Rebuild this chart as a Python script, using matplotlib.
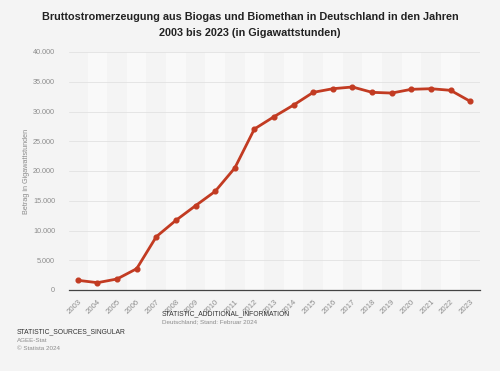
#!/usr/bin/env python3

"""
Bruttostromerzeugung aus Biogas und Biomethan in Deutschland 2003-2023.
"""

import matplotlib
matplotlib.use("Agg")
import matplotlib.pyplot as plt
from matplotlib.ticker import FuncFormatter

years = list(range(2003, 2024))
values = [1630, 1230, 1850, 3580, 8960, 11710, 14170, 16580, 20500, 27060,
          29130, 31090, 33220, 33830, 34120, 33220, 33100, 33730, 33830, 33560, 31710]
y_ticks = [0, 5000, 10000, 15000, 20000, 25000, 30000, 35000, 40000]

BG = "#f4f4f4"
LINE = "#c23b22"
GREY = "#8c8c8c"

plt.rcParams["font.family"] = ["Liberation Sans", "DejaVu Sans"]


def de_thousands(v, pos):
    return f"{int(v):,}".replace(",", ".")


def main():
    fig = plt.figure(figsize=(5.0, 3.71), dpi=100, facecolor=BG)
    ax = fig.add_axes([69 / 500, 1 - 290 / 371, 411 / 500, 238 / 371])
    ax.set_facecolor(BG)

    # alternating light column bands
    for i, yr in enumerate(years):
        if i % 2 == 1:
            ax.axvspan(yr - 0.5, yr + 0.5, color="#f9f9f9", zorder=0, lw=0)

    ax.plot(years, values, color=LINE, lw=2.0, marker="o", markersize=3.4,
            zorder=3, solid_capstyle="round")

    ax.set_xlim(2002.55, 2023.5)
    ax.set_ylim(0, 40000)
    ax.set_yticks(y_ticks)
    ax.yaxis.set_major_formatter(FuncFormatter(de_thousands))
    ax.set_xticks(years)
    ax.set_xticklabels([str(y) for y in years], rotation=45, ha="right",
                       rotation_mode="anchor", fontsize=5.6, color=GREY)
    ax.tick_params(axis="y", labelsize=5.2, labelcolor=GREY, length=0, pad=10)
    ax.tick_params(axis="x", length=0, pad=6)
    ax.grid(axis="y", color="#e2e2e2", lw=0.6, zorder=1)

    for side in ["top", "right", "left"]:
        ax.spines[side].set_visible(False)
    ax.spines["bottom"].set_color("#444444")
    ax.spines["bottom"].set_linewidth(0.9)
    ax.spines["bottom"].set_zorder(4)

    ax.set_ylabel("Betrag in Gigawattstunden", fontsize=5.2, color=GREY, labelpad=2)

    fig.text(0.5, 1 - 25 / 371,
             "Bruttostromerzeugung aus Biogas und Biomethan in Deutschland in den Jahren\n"
             "2003 bis 2023 (in Gigawattstunden)",
             ha="center", va="center", fontsize=7.8, fontweight="bold",
             color="#222222", linespacing=1.7)

    fig.text(162 / 500, 1 - 314 / 371, "STATISTIC_ADDITIONAL_INFORMATION",
             fontsize=4.9, color="#333333", va="center")
    fig.text(162 / 500, 1 - 322 / 371, "Deutschland; Stand: Februar 2024",
             fontsize=4.5, color=GREY, va="center")
    fig.text(17 / 500, 1 - 332 / 371, "STATISTIC_SOURCES_SINGULAR",
             fontsize=4.9, color="#333333", va="center")
    fig.text(17 / 500, 1 - 340 / 371, "AGEE-Stat",
             fontsize=4.5, color=GREY, va="center")
    fig.text(17 / 500, 1 - 348 / 371, "\u00a9 Statista 2024",
             fontsize=4.5, color=GREY, va="center")

    fig.savefig("out.png", dpi=100, facecolor=BG)


if __name__ == "__main__":
    main()
